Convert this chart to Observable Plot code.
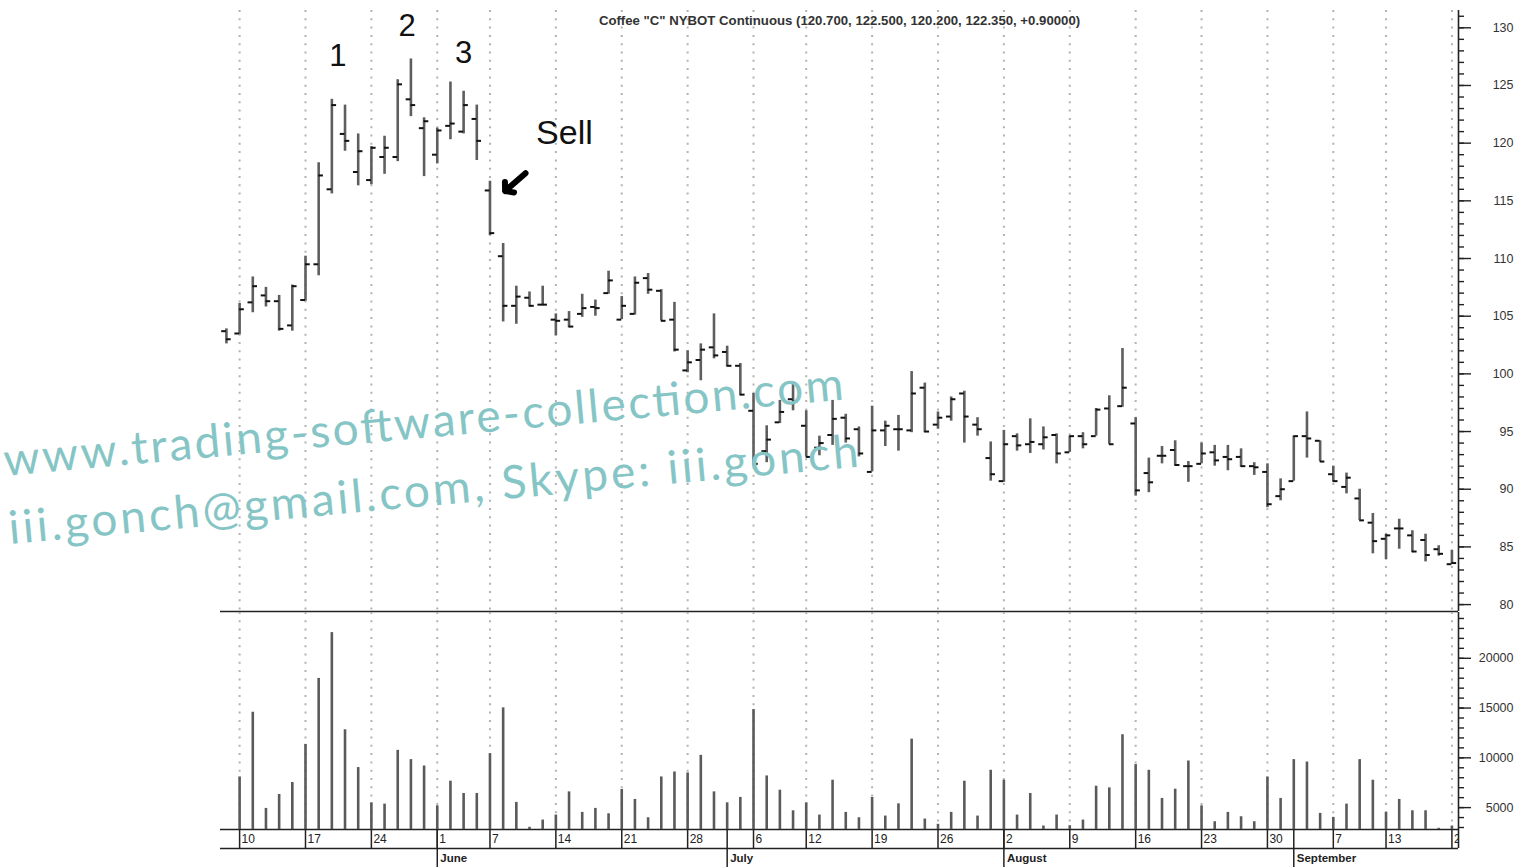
<!DOCTYPE html>
<html>
<head>
<meta charset="utf-8">
<script src="https://cdn.jsdelivr.net/npm/d3@7"></script>
<script src="https://cdn.jsdelivr.net/npm/@observablehq/plot@0.6"></script>
<style>
html, body { margin: 0; padding: 0; background: #fff; overflow: hidden; }
#wrap { position: relative; width: 1515px; height: 867px; background: #fff; }
#wrap svg { position: absolute; left: 0; max-width: none !important; }
</style>
</head>
<body>
<div id="wrap"></div>
<script>
// ---------- data ----------
const dates = [
  "2004-05-07",
  "2004-05-10","2004-05-11","2004-05-12","2004-05-13","2004-05-14",
  "2004-05-17","2004-05-18","2004-05-19","2004-05-20","2004-05-21",
  "2004-05-24","2004-05-25","2004-05-26","2004-05-27","2004-05-28",
  "2004-06-01","2004-06-02","2004-06-03","2004-06-04",
  "2004-06-07","2004-06-08","2004-06-09","2004-06-10","2004-06-11",
  "2004-06-14","2004-06-15","2004-06-16","2004-06-17","2004-06-18",
  "2004-06-21","2004-06-22","2004-06-23","2004-06-24","2004-06-25",
  "2004-06-28","2004-06-29","2004-06-30","2004-07-01","2004-07-02",
  "2004-07-06","2004-07-07","2004-07-08","2004-07-09",
  "2004-07-12","2004-07-13","2004-07-14","2004-07-15","2004-07-16",
  "2004-07-19","2004-07-20","2004-07-21","2004-07-22","2004-07-23",
  "2004-07-26","2004-07-27","2004-07-28","2004-07-29","2004-07-30",
  "2004-08-02","2004-08-03","2004-08-04","2004-08-05","2004-08-06",
  "2004-08-09","2004-08-10","2004-08-11","2004-08-12","2004-08-13",
  "2004-08-16","2004-08-17","2004-08-18","2004-08-19","2004-08-20",
  "2004-08-23","2004-08-24","2004-08-25","2004-08-26","2004-08-27",
  "2004-08-30","2004-08-31","2004-09-01","2004-09-02","2004-09-03",
  "2004-09-07","2004-09-08","2004-09-09","2004-09-10",
  "2004-09-13","2004-09-14","2004-09-15","2004-09-16","2004-09-17",
  "2004-09-20"
];
const openP = [
  103.7,
  103.5,106.2,106.8,106.3,104.2,
  106.4,109.5,116.0,120.8,117.5,
  116.8,118.8,118.8,123.8,121.3,
  119.0,121.5,121.0,122.1,
  115.9,110.2,105.9,106.6,106.0,
  104.7,104.7,105.2,105.8,107.0,
  104.7,105.2,108.3,107.2,104.7,
  100.3,101.2,102.3,101.9,100.7,
  96.8,93.3,95.8,97.8,
  95.5,93.6,94.7,96.2,95.2,
  91.5,95.1,95.2,95.1,98.8,
  95.6,96.3,98.3,95.6,92.7,
  90.7,94.6,93.9,93.9,94.7,
  93.2,94.6,94.6,97.0,97.2,
  95.7,91.4,92.9,93.4,92.0,
  92.2,93.2,92.8,92.8,92.0,
  91.5,89.4,90.7,94.6,94.2,
  91.3,90.2,89.2,87.1,
  85.7,86.6,86.0,85.6,84.8,
  83.5
];
const highP = [
  103.9,
  106.1,108.4,107.5,106.8,107.7,
  110.2,118.3,123.8,123.3,120.8,
  119.7,120.6,125.5,127.3,122.2,
  121.3,125.3,124.5,123.3,
  116.7,111.3,107.6,107.1,107.6,
  105.2,105.4,106.9,106.4,108.9,
  106.7,108.4,108.7,107.3,106.2,
  102.0,102.6,105.2,102.4,100.9,
  98.3,95.5,97.7,99.3,
  96.8,94.6,97.7,96.5,95.4,
  97.2,95.9,96.4,100.2,99.2,
  96.7,98.0,98.5,96.2,94.1,
  95.1,94.8,96.1,95.4,94.8,
  94.6,94.9,97.0,98.1,102.2,
  96.2,92.7,93.7,94.2,92.4,
  94.0,93.8,93.8,93.5,92.3,
  92.2,90.9,94.6,96.7,94.2,
  92.0,91.4,90.0,87.9,
  86.1,87.4,86.4,86.1,85.1,
  84.7
];
const lowP = [
  102.6,
  103.4,105.3,105.8,103.7,103.7,
  106.3,108.5,115.6,119.3,116.3,
  116.4,117.3,118.4,122.3,117.1,
  118.2,120.3,120.8,118.5,
  112.0,104.5,104.3,105.8,105.9,
  103.3,104.0,104.9,105.0,106.9,
  104.7,105.1,106.9,104.6,101.9,
  100.1,99.4,101.3,100.6,98.1,
  92.0,92.3,95.7,96.8,
  92.8,92.9,93.8,94.0,92.8,
  91.5,93.7,93.3,94.9,94.9,
  95.2,95.9,94.0,94.6,90.7,
  90.6,93.3,93.1,93.4,92.2,
  93.2,93.5,94.6,93.9,97.1,
  89.4,89.7,92.2,92.0,90.6,
  92.2,92.0,91.6,91.9,91.2,
  88.4,89.0,90.7,92.7,92.4,
  90.6,89.6,87.3,84.4,
  83.9,84.8,84.5,83.7,84.2,
  83.5
];
const closeP = [
  103.0,
  105.6,107.6,106.3,103.9,107.6,
  109.5,117.2,123.3,120.2,119.3,
  119.6,119.6,125.1,123.3,121.9,
  121.1,121.7,123.3,120.2,
  112.2,105.9,106.7,105.9,106.0,
  104.6,104.1,105.7,105.7,108.1,
  105.9,107.9,107.3,104.6,102.1,
  101.0,102.1,101.6,100.7,98.2,
  92.2,94.3,96.7,97.6,
  92.8,94.0,96.1,94.4,93.1,
  95.1,95.5,95.2,98.3,95.0,
  96.2,97.8,96.3,95.2,91.3,
  93.9,93.8,94.1,94.5,93.1,
  94.6,93.9,96.9,93.9,98.8,
  89.9,90.6,92.9,92.1,92.0,
  93.1,92.5,92.6,92.0,91.9,
  88.7,90.0,94.6,94.4,92.4,
  90.7,91.0,87.3,85.5,
  86.0,86.6,84.6,84.3,84.4,
  83.6
];
const volume = [
  null,
  8080,14580,4920,6320,7520,
  11350,17980,22580,12820,9020,
  5480,5350,10750,9820,9180,
  5180,7650,6420,6420,
  10420,15020,5520,3020,3750,
  4250,6580,4520,4920,4380,
  6820,5820,3980,8080,8580,
  8480,10250,6580,5480,6020,
  14850,8180,6750,4680,
  5480,4250,7750,4520,3980,
  6020,4150,5380,11880,3850,
  3320,4520,7650,4150,8750,
  7750,4250,6420,3150,4250,
  3180,3750,7150,6980,12320,
  9320,8750,5920,6850,9680,
  5180,3580,4520,4080,3580,
  8080,5920,9820,9580,4420,
  4020,5350,9820,7750,
  4520,5820,4680,4680,2920,
  3150
];
const priceTicks = [80, 85, 90, 95, 100, 105, 110, 115, 120, 125, 130];
const volumeTicks = [5000, 10000, 15000, 20000];
const chartTitle = 'Coffee "C" NYBOT Continuous (120.700, 122.500, 120.200, 122.350, +0.90000)';
// annotations in data coordinates (bar index, price)
const peakLabels = ["1", "2", "3"];
const peakIndex = [8.46, 13.71, 18.0];
const peakPrice = [127.55, 130.15, 127.8];
const sellLabel = "Sell";
const sellAt = {i: 25.65, price: 120.86};
const sellArrow = {i1: 22.7, p1: 117.4, i2: 21.15, p2: 115.85};
const watermarkLines = ["www.trading-software-collection.com", "iii.gonch@gmail.com, Skype: iii.gonch"];

// ---------- derived table ----------
const bars = dates.map((d, i) => ({
  i, date: new Date(d + "T00:00:00Z"),
  o: openP[i], h: highP[i], l: lowP[i], c: closeP[i], v: volume[i]
}));
const weekStarts = bars.filter((b, k) => k > 0 && d3.utcMonday.floor(b.date) > bars[k - 1].date);
const monthStarts = bars.filter((b, k) => k > 0 && b.date.getUTCMonth() !== bars[k - 1].date.getUTCMonth());
const annotations = peakLabels.map((t, k) => ({t, i: peakIndex[k], p: peakPrice[k]}));

const W = 1515;
const xDomain = [-0.45, 93.5];
const priceDomain = [79.4, 131.5];
const volDomain = [2800, 24600];
const font = "'Liberation Sans', Arial, Helvetica, sans-serif";
const ink = "#222";
const common = {width: W, marginLeft: 220, marginRight: 57};
const baseStyle = {background: "transparent", overflow: "visible", fontFamily: font, color: ink};
const gridOpts = {x: "i", stroke: "#b2b2b2", strokeWidth: 2, strokeDasharray: "2,6.3"};

// ---------- price panel ----------
const pricePlot = Plot.plot({
  ...common, height: 612, marginTop: 10, marginBottom: 1,
  style: baseStyle,
  x: {type: "linear", domain: xDomain, axis: null},
  y: {type: "linear", domain: priceDomain, axis: null},
  marks: [
    Plot.ruleX(weekStarts, gridOpts),
    Plot.ruleY([priceDomain[0]], {stroke: ink, strokeWidth: 1.6}),
    Plot.ruleX([xDomain[1]], {stroke: ink, strokeWidth: 1.6}),
    Plot.axisY(d3.range(80, 132, 1), {anchor: "right", tickSize: 5, fill: "none", label: null, stroke: ink, strokeWidth: 1.4}),
    Plot.axisY(priceTicks, {anchor: "right", tickSize: 12, tickPadding: 43, textAnchor: "end", fontSize: 12.5, label: null, stroke: ink, strokeWidth: 1.4, fill: "#333"}),
    Plot.ruleX(bars, {x: "i", y1: "l", y2: "h", stroke: "#5e5e5e", strokeWidth: 2.6}),
    Plot.ruleY(bars, {y: "o", x1: d => d.i - 0.36, x2: "i", stroke: "#111", strokeWidth: 2}),
    Plot.ruleY(bars, {y: "c", x1: "i", x2: d => d.i + 0.36, stroke: "#111", strokeWidth: 2}),
    Plot.text(annotations, {x: "i", y: "p", text: "t", fontSize: 31, fill: "#111", lineAnchor: "middle"}),
    Plot.text([sellLabel], {x: sellAt.i, y: sellAt.price, fontSize: 34, fill: "#111", lineAnchor: "middle"}),
    Plot.arrow([sellArrow], {x1: "i1", y1: "p1", x2: "i2", y2: "p2", stroke: "#000", strokeWidth: 6, headLength: 2.4, headAngle: 100}),
    Plot.text([chartTitle], {frameAnchor: "top", dy: 5, lineAnchor: "top", fontSize: 13.2, fontWeight: "bold", fill: "#333"})
  ]
});
pricePlot.style.top = "0px";

// ---------- volume panel ----------
const volPlot = Plot.plot({
  ...common, height: 218, marginTop: 0, marginBottom: 1,
  style: baseStyle,
  x: {type: "linear", domain: xDomain, axis: null},
  y: {type: "linear", domain: volDomain, axis: null},
  marks: [
    Plot.ruleX(weekStarts, gridOpts),
    Plot.ruleY([volDomain[0]], {stroke: ink, strokeWidth: 1.6}),
    Plot.ruleX([xDomain[1]], {stroke: ink, strokeWidth: 1.6}),
    Plot.axisY(d3.range(3000, 25000, 1000), {anchor: "right", tickSize: 5, fill: "none", label: null, stroke: ink, strokeWidth: 1.4}),
    Plot.axisY(volumeTicks, {anchor: "right", tickSize: 12, tickPadding: 43, textAnchor: "end", fontSize: 12.5, label: null, stroke: ink, strokeWidth: 1.4, fill: "#333", tickFormat: d => String(d)}),
    Plot.ruleX(bars.filter(b => b.v != null), {x: "i", y1: volDomain[0], y2: "v", stroke: "#5a5a5a", strokeWidth: 2.6})
  ]
});
volPlot.style.top = "612px";

// ---------- date rows ----------
const datePlot = Plot.plot({
  ...common, height: 38, marginTop: 0, marginBottom: 0,
  style: baseStyle,
  x: {type: "linear", domain: xDomain, axis: null},
  y: {type: "linear", domain: [0, 2], axis: null},
  marks: [
    Plot.ruleY([1], {stroke: ink, strokeWidth: 1.6}),
    Plot.ruleX(weekStarts, {x: "i", y1: 1, y2: 2, stroke: ink, strokeWidth: 1.5}),
    Plot.ruleX(monthStarts, {x: "i", y1: 0, y2: 2, stroke: ink, strokeWidth: 1.5}),
    Plot.ruleX([xDomain[1]], {y1: 1, y2: 2, stroke: ink, strokeWidth: 1.6}),
    Plot.text(weekStarts, {x: "i", y: 1.5, text: d => String(d.date.getUTCDate()), textAnchor: "start", dx: 2, fontSize: 12, fill: "#222", clip: true}),
    Plot.text(monthStarts, {x: "i", y: 0.5, text: d => d3.utcFormat("%B")(d.date), textAnchor: "start", dx: 3, fontSize: 11.5, fontWeight: "bold", fill: "#222"})
  ]
});
datePlot.style.top = "829px";

const wrap = document.getElementById("wrap");
wrap.append(pricePlot, volPlot, datePlot);

// ---------- watermark overlay ----------
const wm = d3.create("svg").attr("width", W).attr("height", 867)
  .style("top", "0px").style("pointer-events", "none").style("overflow", "visible");
const wmPos = [{x: 5, y: 476, len: 843}, {x: 10, y: 544, len: 853}];
watermarkLines.forEach((t, k) => {
  wm.append("text")
    .attr("x", wmPos[k].x).attr("y", wmPos[k].y)
    .attr("transform", `rotate(-5.2 ${wmPos[k].x} ${wmPos[k].y})`)
    .attr("textLength", wmPos[k].len).attr("lengthAdjust", "spacing")
    .attr("font-family", "Lato, 'Open Sans', sans-serif").attr("font-size", 46)
    .attr("fill", "#86c5c5").text(t);
});
wrap.append(wm.node());
</script>
</body>
</html>
